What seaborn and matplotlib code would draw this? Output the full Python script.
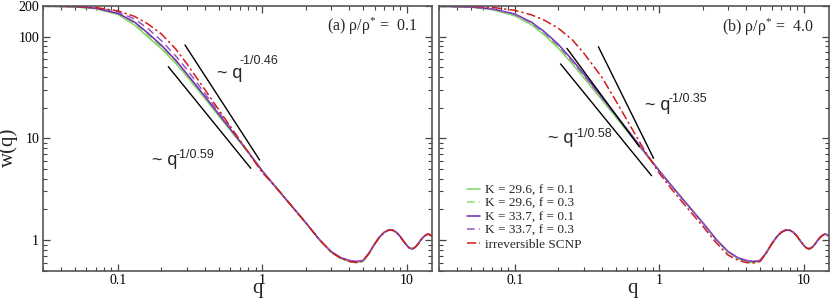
import matplotlib
matplotlib.use('Agg')
import matplotlib.pyplot as plt
from matplotlib.lines import Line2D
from matplotlib.ticker import NullFormatter
import seaborn as sns
import pandas as pd

# q grid below q = 1 (each curve has its own w values here)
q_low = [0.03, 0.05, 0.07, 0.1, 0.13, 0.16, 0.2, 0.25, 0.3, 0.4, 0.5, 0.65, 0.8, 1.0]
# q grid above q = 1 (curves nearly collapse)
q_tail = [1.2, 1.5, 2.0, 2.5, 3.0, 3.5, 4.0, 4.5, 5.0, 5.5, 6.0, 6.5, 7.0, 7.5, 8.0,
          8.5, 9.0, 9.5, 10.0, 10.5, 11.0, 11.5, 12.0, 12.5, 13.0, 13.5, 14.0, 14.5, 15.0]
w_tail = [3.5, 2.4, 1.48, 1.0, 0.76, 0.66, 0.615, 0.60, 0.62, 0.74, 0.91, 1.07, 1.19, 1.25, 1.25,
          1.19, 1.09, 0.98, 0.89, 0.83, 0.82, 0.85, 0.91, 0.99, 1.06, 1.11, 1.14, 1.13, 1.09]
w_tail_purple = [3.5, 2.4, 1.48, 1.0, 0.77, 0.67, 0.63, 0.615, 0.63, 0.745, 0.91, 1.07, 1.19, 1.25, 1.25,
                 1.19, 1.09, 0.98, 0.89, 0.83, 0.82, 0.85, 0.91, 0.99, 1.06, 1.11, 1.14, 1.13, 1.09]
w_tail_red_b = [3.25, 2.22, 1.37, 0.93, 0.71, 0.635, 0.60, 0.595, 0.615, 0.74, 0.91, 1.07, 1.19, 1.25, 1.25,
                1.19, 1.09, 0.98, 0.89, 0.83, 0.82, 0.85, 0.91, 0.99, 1.06, 1.11, 1.14, 1.13, 1.09]

# panel (a) rho/rho* = 0.1
w_a_k296_f01 = [199, 196, 188, 165, 130, 100, 76, 55, 40.6, 24.6, 16.5, 10.4, 7.25, 4.8]
w_a_k296_f03 = [199, 196.5, 189, 166, 134, 104, 79, 57, 41.5, 25, 16.7, 10.5, 7.25, 4.8]
w_a_k337_f01 = [199, 197, 190, 169, 139, 109, 82, 59, 43, 25.8, 17.2, 10.7, 7.3, 4.78]
w_a_k337_f03 = [199.5, 198, 192, 174, 149, 121, 91, 65, 47.5, 27.6, 18.0, 11.0, 7.3, 4.72]
w_a_irrev = [199.5, 198, 193, 179, 158, 134, 106, 76, 54, 30.1, 19.0, 11.1, 7.26, 4.6]

# panel (b) rho/rho* = 4.0
w_b_k296_f01 = [198, 194.5, 184, 160, 131, 104, 77, 54, 39.5, 24, 16.2, 10.2, 7.1, 4.8]
w_b_k296_f03 = [198, 195, 185.5, 163, 134, 107, 79.5, 55.5, 40.5, 24.4, 16.4, 10.3, 7.1, 4.8]
w_b_k337_f01 = [198.5, 196, 187.5, 167, 139, 112, 84, 59, 43, 25.5, 17.0, 10.6, 7.2, 4.8]
w_b_k337_f03 = [198.5, 195.5, 186.5, 165, 137, 110, 82, 57.5, 42, 25, 16.8, 10.5, 7.15, 4.8]
w_b_irrev = [199.5, 198, 194, 181, 164, 145, 121, 93, 69, 40, 23.5, 12.3, 7.4, 4.55]

labels = ['K = 29.6, f = 0.1', 'K = 29.6, f = 0.3', 'K = 33.7, f = 0.1',
          'K = 33.7, f = 0.3', 'irreversible SCNP']

# guide lines: (q_start, w_start, q_end, w_end)
guides_a = [(0.291, 82.7, 0.958, 6.12), (0.223, 50.6, 0.832, 5.07)]
guides_b = [(0.379, 79.6, 0.914, 6.36), (0.2075, 53.8, 0.885, 4.29), (0.2296, 76.7, 0.728, 8.27)]

colors = {labels[0]: '#7ed85e', labels[1]: '#8be070', labels[2]: '#7426b4',
          labels[3]: '#9457c8', labels[4]: '#d41a1a'}
dash_map = {labels[0]: '', labels[1]: (5, 3), labels[2]: '',
            labels[3]: (5, 3), labels[4]: (6, 2, 1.5, 2)}

sns.set_style('ticks')
plt.rcParams['font.family'] = ['Liberation Serif', 'DejaVu Serif']
plt.rcParams['mathtext.fontset'] = 'custom'
plt.rcParams['mathtext.rm'] = 'Liberation Serif'
plt.rcParams['mathtext.it'] = 'Liberation Serif:italic'


def make_df(curves):
    d = {'q': [], 'w': [], 'series': []}
    for lab, w_low, w_hi in curves:
        d['q'] += q_low + q_tail
        d['w'] += w_low + w_hi
        d['series'] += [lab] * (len(q_low) + len(q_tail))
    return pd.DataFrame(d)


def draw_panel(ax, df, guides, show_ylabels):
    sns.lineplot(data=df, x='q', y='w', hue='series', style='series', palette=colors,
                 dashes=dash_map, estimator=None, sort=False, legend=False,
                 linewidth=1.1, ax=ax)
    for q0, w0, q1, w1 in guides:
        ax.plot([q0, q1], [w0, w1], color='black', lw=1.0)
    ax.set_xscale('log')
    ax.set_yscale('log')
    ax.set_xlim(0.03, 15)
    ax.set_ylim(0.5, 200)
    ax.set_xticks([0.1, 1, 10])
    ax.set_xticklabels(['0.1', '1', '10'], fontsize=10)
    ax.set_yticks([1, 10, 100, 200])
    if show_ylabels:
        ax.set_yticklabels(['1', '10', '100', '200'], fontsize=10)
    else:
        ax.set_yticklabels([])
    ax.xaxis.set_minor_formatter(NullFormatter())
    ax.yaxis.set_minor_formatter(NullFormatter())
    ax.tick_params(which='both', direction='in', top=True, right=True,
                   color='#444444', labelcolor='black', pad=2.5)
    ax.tick_params(which='major', length=5, width=0.9)
    ax.tick_params(which='minor', length=3, width=0.8)
    for sp in ax.spines.values():
        sp.set_color('#555555')
        sp.set_linewidth(1.2)
    ax.set_ylabel('')
    ax.set_xlabel('q', fontsize=15, va='baseline')


fig = plt.figure(figsize=(8.3, 2.98), dpi=100)
ax_a = fig.add_axes([0.0514, 0.0919, 0.469, 0.888])
ax_b = fig.add_axes([0.5293, 0.0919, 0.4695, 0.888])

df_a = make_df([(labels[0], w_a_k296_f01, w_tail), (labels[1], w_a_k296_f03, w_tail),
                (labels[2], w_a_k337_f01, w_tail_purple), (labels[3], w_a_k337_f03, w_tail_purple),
                (labels[4], w_a_irrev, w_tail)])
df_b = make_df([(labels[0], w_b_k296_f01, w_tail), (labels[1], w_b_k296_f03, w_tail),
                (labels[2], w_b_k337_f01, w_tail_purple), (labels[3], w_b_k337_f03, w_tail_purple),
                (labels[4], w_b_irrev, w_tail_red_b)])

draw_panel(ax_a, df_a, guides_a, True)
draw_panel(ax_b, df_b, guides_b, False)

ax_a.xaxis.set_label_coords(0.552, -0.086)
ax_b.xaxis.set_label_coords(0.497, -0.086)
ax_a.set_ylabel('w(q)', fontsize=15)
ax_a.yaxis.set_label_coords(-0.063, 0.467)

# panel titles
fig.text(417 / 830, 1 - 30.7 / 298, r'(a) $\mathregular{\rho/\rho^{*}}$ =  0.1',
         ha='right', va='baseline', fontsize=11.5)
fig.text(814 / 830, 1 - 31.7 / 298, r'(b) $\mathregular{\rho/\rho^{*}}$ =  4.0',
         ha='right', va='baseline', fontsize=11.5)

# scaling annotations
sans = ['Liberation Sans', 'DejaVu Sans']
notes = [(217, 78, 239, 64, '-1/0.46'), (152, 165, 175, 158, '-1/0.59'),
         (645, 110, 668, 101.7, '-1/0.35'), (548, 143.3, 573, 136.7, '-1/0.58')]
for xq, yq, xs, ys, expo in notes:
    fig.text(xq / 830, 1 - yq / 298, '~ q', family=sans, fontsize=13, va='baseline')
    fig.text(xs / 830, 1 - ys / 298, expo, family=sans, fontsize=9, va='baseline')

handles = [Line2D([], [], color=colors[l], lw=1.1, linestyle='-') if dash_map[l] == ''
           else Line2D([], [], color=colors[l], lw=1.1, dashes=dash_map[l]) for l in labels]
ax_b.legend(handles, labels, loc='upper left', bbox_to_anchor=(0.071, 0.327), frameon=False,
            fontsize=9.5, handlelength=1.0, handletextpad=0.4, labelspacing=0.1,
            borderpad=0, borderaxespad=0)

fig.savefig('out.png', dpi=100)
